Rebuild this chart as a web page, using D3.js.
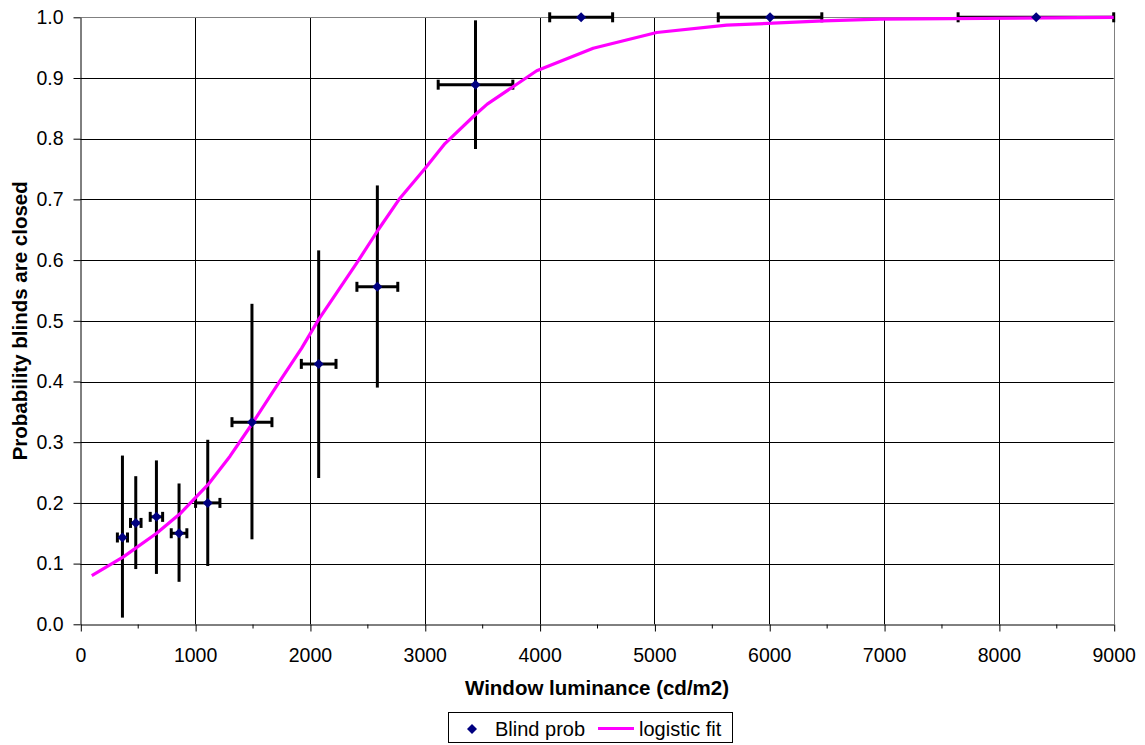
<!DOCTYPE html>
<html>
<head>
<meta charset="utf-8">
<script src="https://cdn.jsdelivr.net/npm/d3@7"></script>
<style>
  html, body { margin: 0; padding: 0; background: #fff; }
  svg { display: block; font-family: "Liberation Sans", Arial, sans-serif; }
</style>
</head>
<body>
<svg id="chart" width="1145" height="745"></svg>
<script>
// ---- Data ----
const luminance   = [367, 483, 663, 860, 1110, 1495, 2076, 2587, 3442, 4362, 6007, 8325];
const blindProb   = [0.143, 0.167, 0.177, 0.150, 0.200, 0.333, 0.429, 0.556, 0.889, 1.0, 1.0, 1.0];
const luminErr    = [44, 46, 54, 68, 106, 174, 151, 178, 325, 274, 451, 680];
const probLow     = [0.011, 0.091, 0.083, 0.070, 0.096, 0.140, 0.241, 0.390, 0.783, 1.0, 1.0, 1.0];
const probHigh    = [0.278, 0.244, 0.270, 0.232, 0.304, 0.528, 0.616, 0.723, 0.995, 1.0, 1.0, 1.0];

const fitX = [100, 375, 665, 868, 1112, 1304, 1495, 1739, 1928, 2075, 2407, 2595, 2784, 3002, 3176, 3437, 3544, 3975, 4467, 5020, 5629, 6470, 6964, 9000];
const fitY = [0.080, 0.111, 0.150, 0.182, 0.230, 0.277, 0.330, 0.401, 0.455, 0.502, 0.595, 0.650, 0.702, 0.751, 0.792, 0.839, 0.857, 0.912, 0.949, 0.975, 0.987, 0.994, 0.997, 1.0];

const xTicks = [0, 1000, 2000, 3000, 4000, 5000, 6000, 7000, 8000, 9000];
const xMinorTicks = [500, 1500, 2500, 3500, 4500, 5500, 6500, 7500, 8500];
const yTicks = [0, 0.1, 0.2, 0.3, 0.4, 0.5, 0.6, 0.7, 0.8, 0.9, 1.0];

const xTitle = "Window luminance (cd/m2)";
const yTitle = "Probability blinds are closed";
const seriesNames = ["Blind prob", "logistic fit"];

// ---- Layout ----
const svg = d3.select("#chart");
const x = d3.scaleLinear().domain([0, 9000]).range([80.3, 1113.7]);
const y = d3.scaleLinear().domain([0, 1]).range([624.3, 17.3]);
const navy = "#000080", magenta = "#FF00FF";

// gridlines
const grid = svg.append("g");
grid.selectAll("line.v").data(xTicks.filter(d => d > 0 && d < 9000)).join("line")
  .attr("x1", d => Math.round(x(d)) + 0.5).attr("x2", d => Math.round(x(d)) + 0.5)
  .attr("y1", y(1)).attr("y2", y(0)).attr("stroke", "#000").attr("stroke-width", 1);
grid.selectAll("line.h").data(yTicks.filter(d => d > 0 && d < 1)).join("line")
  .attr("x1", x(0)).attr("x2", x(9000))
  .attr("y1", d => Math.round(y(d)) + 0.5).attr("y2", d => Math.round(y(d)) + 0.5)
  .attr("stroke", "#000").attr("stroke-width", 1);
// plot border (top/right)
grid.append("line").attr("x1", x(0)).attr("x2", x(9000)).attr("y1", Math.round(y(1)) + 0.5).attr("y2", Math.round(y(1)) + 0.5).attr("stroke", "#808080");
grid.append("line").attr("x1", Math.round(x(9000)) + 0.5).attr("x2", Math.round(x(9000)) + 0.5).attr("y1", y(1)).attr("y2", y(0)).attr("stroke", "#808080");

// axes
const xAxis = svg.append("g").attr("transform", `translate(0,${Math.round(y(0)) + 0.5})`)
  .call(d3.axisBottom(x).tickValues(xTicks).tickFormat(d3.format("d")).tickSize(7).tickPadding(16.5).tickSizeOuter(0));
const xMinor = svg.append("g").attr("transform", `translate(0,${Math.round(y(0)) + 0.5})`)
  .call(d3.axisBottom(x).tickValues(xMinorTicks).tickFormat("").tickSize(4).tickSizeOuter(0));
xMinor.select(".domain").remove();
const yAxis = svg.append("g").attr("transform", `translate(${Math.round(x(0)) + 0.5},0)`)
  .call(d3.axisLeft(y).tickValues(yTicks).tickFormat(d3.format(".1f")).tickSize(7).tickPadding(10).tickSizeOuter(0));
[xAxis, xMinor, yAxis].forEach(g => {
  g.selectAll("text").attr("font-size", 19.5).attr("fill", "#000").attr("font-family", '"Liberation Sans", Arial, sans-serif');
  g.selectAll("line, path").attr("stroke", "#000").attr("stroke-width", 1);
});
xAxis.selectAll(".tick line").attr("x1", 0.5).attr("x2", 0.5);

// axis titles
svg.append("text").attr("x", (x(0) + x(9000)) / 2).attr("y", 695)
  .attr("text-anchor", "middle").attr("font-weight", "bold").attr("font-size", 20.5).text(xTitle);
svg.append("text").attr("transform", `translate(27,${(y(0) + y(1)) / 2}) rotate(-90)`)
  .attr("text-anchor", "middle").attr("font-weight", "bold").attr("font-size", 20.5).text(yTitle);

// data rows
const pts = luminance.map((v, i) => ({ x: v, y: blindProb[i], xe: luminErr[i], lo: probLow[i], hi: probHigh[i] }));

// error bars
const eb = svg.append("g").attr("stroke", "#000").attr("stroke-width", 3);
eb.selectAll("line.vert").data(pts.filter(d => d.hi > d.lo)).join("line")
  .attr("x1", d => x(d.x)).attr("x2", d => x(d.x))
  .attr("y1", d => y(d.hi)).attr("y2", d => y(d.lo));
eb.selectAll("line.horiz").data(pts).join("line")
  .attr("x1", d => x(d.x - d.xe)).attr("x2", d => x(Math.min(9000, d.x + d.xe)))
  .attr("y1", d => y(d.y)).attr("y2", d => y(d.y));
eb.selectAll("line.capL").data(pts).join("line")
  .attr("x1", d => x(d.x - d.xe)).attr("x2", d => x(d.x - d.xe))
  .attr("y1", d => y(d.y) - 5).attr("y2", d => y(d.y) + 5);
eb.selectAll("line.capR").data(pts).join("line")
  .attr("x1", d => x(Math.min(9000, d.x + d.xe))).attr("x2", d => x(Math.min(9000, d.x + d.xe)))
  .attr("y1", d => y(d.y) - 5).attr("y2", d => y(d.y) + 5);

// logistic fit curve
const fit = fitX.map((v, i) => [v, fitY[i]]);
svg.append("path").datum(fit)
  .attr("d", d3.line().x(d => x(d[0])).y(d => y(d[1])))
  .attr("fill", "none").attr("stroke", magenta).attr("stroke-width", 3.2).attr("stroke-linejoin", "round");

// markers
const diamond = d3.symbol().type(d3.symbolDiamond2).size(64);
svg.append("g").selectAll("path").data(pts).join("path")
  .attr("transform", d => `translate(${x(d.x)},${y(d.y)})`)
  .attr("d", diamond).attr("fill", navy);

// legend
const lg = svg.append("g");
lg.append("rect").attr("x", 448.5).attr("y", 712.5).attr("width", 284).attr("height", 30)
  .attr("fill", "#fff").attr("stroke", "#000").attr("stroke-width", 1);
lg.append("path").attr("transform", "translate(472,729)").attr("d", diamond).attr("fill", navy);
lg.append("text").attr("x", 495).attr("y", 735.5).attr("font-size", 20).text(seriesNames[0]);
lg.append("line").attr("x1", 598).attr("x2", 634).attr("y1", 728.5).attr("y2", 728.5)
  .attr("stroke", magenta).attr("stroke-width", 3.2);
lg.append("text").attr("x", 639).attr("y", 735.5).attr("font-size", 20).text(seriesNames[1]);
</script>
</body>
</html>
